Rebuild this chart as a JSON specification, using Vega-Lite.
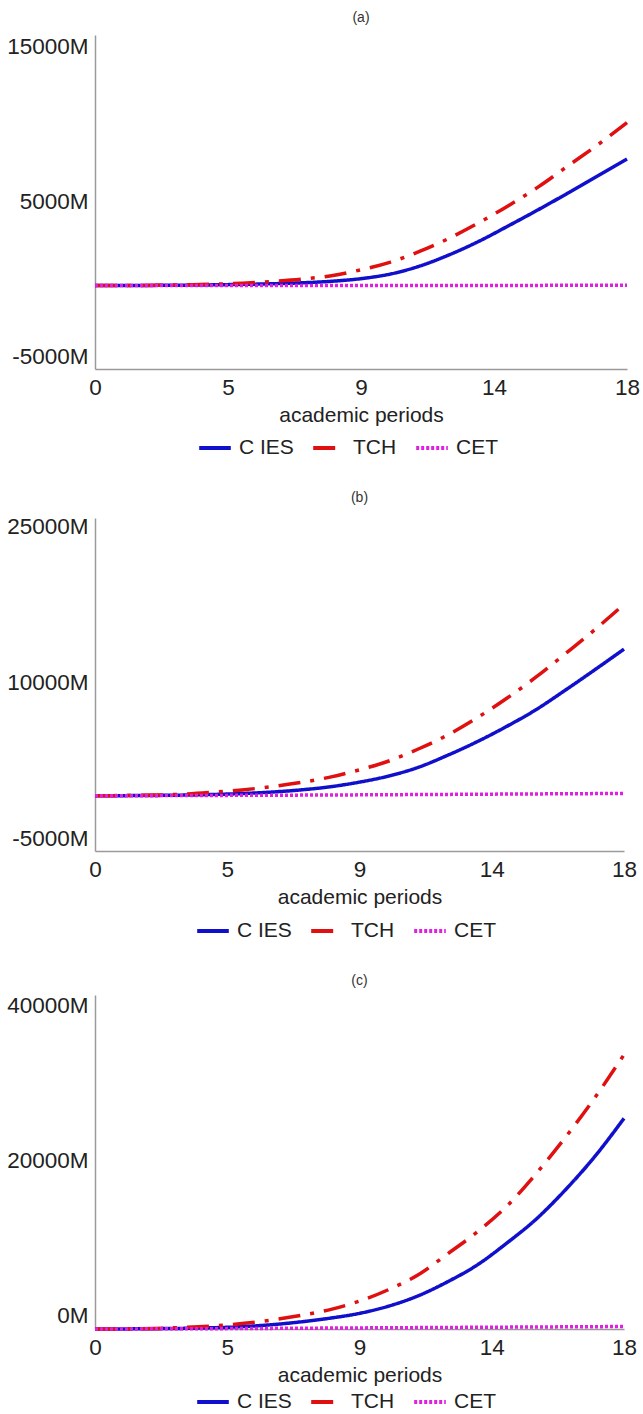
{
  "$schema": "https://vega.github.io/schema/vega-lite/v6.json",
  "background": "white",
  "padding": {"left": 6, "top": 11, "right": 5, "bottom": 0},
  "spacing": 33,
  "config": {
    "font": "Liberation Sans",
    "view": {"stroke": null},
    "axis": {"labelFontSize": 22.5, "titleFontSize": 21, "ticks": false, "grid": false, "domainColor": "#9a9a9a", "domainWidth": 1.5, "labelColor": "#222", "titleColor": "#222", "titleFontWeight": "normal", "labelFlush": false, "labelOverlap": false, "labelPadding": 7},
    "axisX": {"titlePadding": 6},
    "legend": {"orient": "none", "legendX": 102, "legendY": 395, "direction": "horizontal", "symbolType": "stroke", "symbolSize": 1000, "symbolStrokeWidth": 4, "labelFontSize": 21, "labelColor": "#222", "columnPadding": 11, "labelOffset": 6},
    "title": {"fontSize": 14, "fontWeight": "normal", "color": "#333", "anchor": "middle", "offset": 10}
  },
  "resolve": {"scale": {"color": "independent", "strokeDash": "independent", "x": "independent", "y": "independent"}},
  "vconcat": [
    {
      "title": {"text": "(a)"},
      "width": 532, "height": 334,
      "data": {"values": [
        {"p": 0, "C IES": -420, "TCH": -420, "CET": -420},
        {"p": 1, "C IES": -415, "TCH": -415, "CET": -420},
        {"p": 2, "C IES": -405, "TCH": -400, "CET": -420},
        {"p": 3, "C IES": -390, "TCH": -370, "CET": -420},
        {"p": 4, "C IES": -370, "TCH": -330, "CET": -420},
        {"p": 5, "C IES": -340, "TCH": -260, "CET": -420},
        {"p": 6, "C IES": -300, "TCH": -150, "CET": -420},
        {"p": 7, "C IES": -240, "TCH": 0, "CET": -420},
        {"p": 8, "C IES": -140, "TCH": 220, "CET": -415},
        {"p": 9, "C IES": 30, "TCH": 600, "CET": -415},
        {"p": 10, "C IES": 330, "TCH": 1100, "CET": -415},
        {"p": 11, "C IES": 850, "TCH": 1800, "CET": -410},
        {"p": 12, "C IES": 1580, "TCH": 2650, "CET": -410},
        {"p": 13, "C IES": 2450, "TCH": 3650, "CET": -410},
        {"p": 14, "C IES": 3450, "TCH": 4750, "CET": -405},
        {"p": 15, "C IES": 4480, "TCH": 5950, "CET": -405},
        {"p": 16, "C IES": 5550, "TCH": 7300, "CET": -400},
        {"p": 17, "C IES": 6650, "TCH": 8650, "CET": -400},
        {"p": 18, "C IES": 7750, "TCH": 10100, "CET": -400}
      ]},
      "transform": [{"fold": ["C IES", "TCH", "CET"], "as": ["series", "value"]}],
      "mark": {"type": "line", "strokeWidth": 3.5, "interpolate": "monotone"},
      "encoding": {
        "x": {"field": "p", "type": "quantitative", "scale": {"domain": [0, 18], "nice": false}, "axis": {"values": [0, 4.5, 9, 13.5, 18], "labelExpr": "round(datum.value)", "title": "academic periods"}},
        "y": {"field": "value", "type": "quantitative", "scale": {"domain": [-5800, 15750], "nice": false, "zero": false}, "axis": {"values": [-5000, 5000, 15000], "labelExpr": "datum.value + 'M'", "title": null}},
        "color": {"field": "series", "type": "nominal", "scale": {"domain": ["C IES", "TCH", "CET"], "range": ["#1010cc", "#e01010", "#e020e0"]}, "legend": {"title": null}},
        "strokeDash": {"field": "series", "type": "nominal", "scale": {"domain": ["C IES", "TCH", "CET"], "range": [[1, 0], [22, 10, 4, 10], [3, 2]]}, "legend": {"title": null}}
      }
    },
    {
      "title": {"text": "(b)"},
      "width": 529, "height": 333,
      "data": {"values": [
        {"p": 0, "C IES": -890, "TCH": -890, "CET": -890},
        {"p": 1, "C IES": -880, "TCH": -870, "CET": -885},
        {"p": 2, "C IES": -860, "TCH": -830, "CET": -880},
        {"p": 3, "C IES": -830, "TCH": -740, "CET": -870},
        {"p": 4, "C IES": -770, "TCH": -560, "CET": -860},
        {"p": 5, "C IES": -680, "TCH": -330, "CET": -850},
        {"p": 6, "C IES": -540, "TCH": -20, "CET": -840},
        {"p": 7, "C IES": -330, "TCH": 380, "CET": -830},
        {"p": 8, "C IES": -30, "TCH": 900, "CET": -820},
        {"p": 9, "C IES": 420, "TCH": 1600, "CET": -805},
        {"p": 10, "C IES": 1010, "TCH": 2450, "CET": -790},
        {"p": 11, "C IES": 1840, "TCH": 3600, "CET": -775},
        {"p": 12, "C IES": 3000, "TCH": 4950, "CET": -760},
        {"p": 13, "C IES": 4300, "TCH": 6600, "CET": -745},
        {"p": 14, "C IES": 5760, "TCH": 8450, "CET": -730},
        {"p": 15, "C IES": 7370, "TCH": 10500, "CET": -715},
        {"p": 16, "C IES": 9250, "TCH": 12750, "CET": -700},
        {"p": 17, "C IES": 11200, "TCH": 15050, "CET": -685},
        {"p": 18, "C IES": 13200, "TCH": 17500, "CET": -665}
      ]},
      "transform": [{"fold": ["C IES", "TCH", "CET"], "as": ["series", "value"]}],
      "mark": {"type": "line", "strokeWidth": 3.5, "interpolate": "monotone"},
      "encoding": {
        "x": {"field": "p", "type": "quantitative", "scale": {"domain": [0, 18], "nice": false}, "axis": {"values": [0, 4.5, 9, 13.5, 18], "labelExpr": "round(datum.value)", "title": "academic periods"}},
        "y": {"field": "value", "type": "quantitative", "scale": {"domain": [-6200, 25800], "nice": false, "zero": false}, "axis": {"values": [-5000, 10000, 25000], "labelExpr": "datum.value + 'M'", "title": null}},
        "color": {"field": "series", "type": "nominal", "scale": {"domain": ["C IES", "TCH", "CET"], "range": ["#1010cc", "#e01010", "#e020e0"]}, "legend": {"title": null, "legendX": 100}},
        "strokeDash": {"field": "series", "type": "nominal", "scale": {"domain": ["C IES", "TCH", "CET"], "range": [[1, 0], [22, 10, 4, 10], [3, 2]]}, "legend": {"title": null, "legendX": 100}}
      }
    },
    {
      "title": {"text": "(c)", "offset": 6},
      "width": 529, "height": 334,
      "data": {"values": [
        {"p": 0, "C IES": -1800, "TCH": -1800, "CET": -1800},
        {"p": 1, "C IES": -1790, "TCH": -1780, "CET": -1790},
        {"p": 2, "C IES": -1760, "TCH": -1720, "CET": -1780},
        {"p": 3, "C IES": -1720, "TCH": -1600, "CET": -1770},
        {"p": 4, "C IES": -1640, "TCH": -1400, "CET": -1760},
        {"p": 5, "C IES": -1500, "TCH": -1100, "CET": -1740},
        {"p": 6, "C IES": -1250, "TCH": -650, "CET": -1720},
        {"p": 7, "C IES": -880, "TCH": -50, "CET": -1700},
        {"p": 8, "C IES": -400, "TCH": 700, "CET": -1680},
        {"p": 9, "C IES": 220, "TCH": 1800, "CET": -1660},
        {"p": 10, "C IES": 1160, "TCH": 3300, "CET": -1640},
        {"p": 11, "C IES": 2490, "TCH": 5200, "CET": -1620},
        {"p": 12, "C IES": 4300, "TCH": 7900, "CET": -1600},
        {"p": 13, "C IES": 6450, "TCH": 10700, "CET": -1580},
        {"p": 14, "C IES": 9250, "TCH": 14000, "CET": -1560},
        {"p": 15, "C IES": 12340, "TCH": 18200, "CET": -1540},
        {"p": 16, "C IES": 16130, "TCH": 22900, "CET": -1520},
        {"p": 17, "C IES": 20430, "TCH": 28000, "CET": -1500},
        {"p": 18, "C IES": 25380, "TCH": 33600, "CET": -1480}
      ]},
      "transform": [{"fold": ["C IES", "TCH", "CET"], "as": ["series", "value"]}],
      "mark": {"type": "line", "strokeWidth": 3.5, "interpolate": "monotone"},
      "encoding": {
        "x": {"field": "p", "type": "quantitative", "scale": {"domain": [0, 18], "nice": false}, "axis": {"values": [0, 4.5, 9, 13.5, 18], "labelExpr": "round(datum.value)", "title": "academic periods"}},
        "y": {"field": "value", "type": "quantitative", "scale": {"domain": [-1800, 41300], "nice": false, "zero": false}, "axis": {"values": [0, 20000, 40000], "labelExpr": "datum.value + 'M'", "title": null}},
        "color": {"field": "series", "type": "nominal", "scale": {"domain": ["C IES", "TCH", "CET"], "range": ["#1010cc", "#e01010", "#e020e0"]}, "legend": {"title": null, "legendX": 100, "legendY": 389}},
        "strokeDash": {"field": "series", "type": "nominal", "scale": {"domain": ["C IES", "TCH", "CET"], "range": [[1, 0], [22, 10, 4, 10], [3, 2]]}, "legend": {"title": null, "legendX": 100, "legendY": 389}}
      }
    }
  ]
}
